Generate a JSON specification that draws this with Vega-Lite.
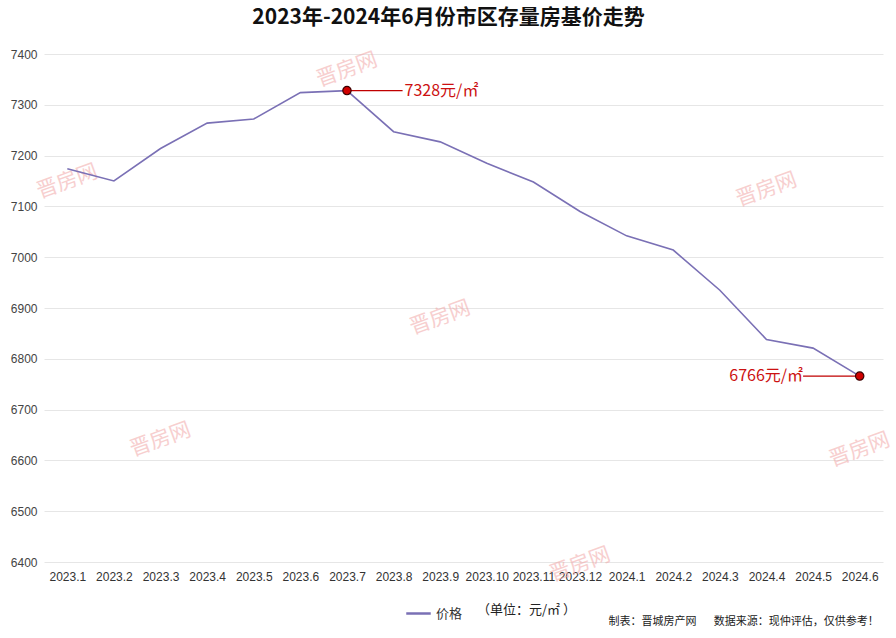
{
  "$schema": "https://vega.github.io/schema/vega-lite/v6.json",
  "width": 839,
  "height": 508,
  "autosize": "none",
  "padding": {"left": 44, "top": 54, "right": 13, "bottom": 76},
  "background": "white",
  "title": {
    "text": "2023年-2024年6月份市区存量房基价走势",
    "font": "Noto Sans CJK SC",
    "fontSize": 21,
    "fontWeight": "bold",
    "color": "#111111",
    "anchor": "middle",
    "frame": "group",
    "dx": -15,
    "offset": 20
  },
  "datasets": {
    "prices": [
      {"month": "2023.1", "price": 7174, "series": "价格"},
      {"month": "2023.2", "price": 7150, "series": "价格"},
      {"month": "2023.3", "price": 7214, "series": "价格"},
      {"month": "2023.4", "price": 7264, "series": "价格"},
      {"month": "2023.5", "price": 7272, "series": "价格"},
      {"month": "2023.6", "price": 7324, "series": "价格"},
      {"month": "2023.7", "price": 7328, "series": "价格"},
      {"month": "2023.8", "price": 7247, "series": "价格"},
      {"month": "2023.9", "price": 7227, "series": "价格"},
      {"month": "2023.10", "price": 7185, "series": "价格"},
      {"month": "2023.11", "price": 7148, "series": "价格"},
      {"month": "2023.12", "price": 7090, "series": "价格"},
      {"month": "2024.1", "price": 7042, "series": "价格"},
      {"month": "2024.2", "price": 7014, "series": "价格"},
      {"month": "2024.3", "price": 6935, "series": "价格"},
      {"month": "2024.4", "price": 6838, "series": "价格"},
      {"month": "2024.5", "price": 6821, "series": "价格"},
      {"month": "2024.6", "price": 6766, "series": "价格"}
    ],
    "callouts": [
      {"month": "2023.7", "to": "2023.8", "price": 7328, "label": "7328元/㎡", "side": "right"},
      {"month": "2024.6", "to": "2024.5", "price": 6766, "label": "6766元/㎡", "side": "left"}
    ],
    "watermarks": [
      {"month": "2023.7", "price": 7368},
      {"month": "2023.1", "price": 7148},
      {"month": "2024.4", "price": 7132},
      {"month": "2023.9", "price": 6880},
      {"month": "2023.3", "price": 6640},
      {"month": "2024.6", "price": 6620},
      {"month": "2023.12", "price": 6394}
    ],
    "units": [{"month": "2023.11", "price": 6400, "note": "（单位：元/㎡ ）"}],
    "credits": [{"month": "2024.6", "price": 6400, "note": "制表：晋城房产网\u00a0\u00a0\u00a0\u00a0\u00a0\u00a0\u00a0数据来源：现仲评估，仅供参考！"}]
  },
  "encoding": {
    "x": {
      "field": "month",
      "type": "ordinal",
      "scale": {
        "type": "point",
        "padding": 0.5,
        "domain": ["2023.1", "2023.2", "2023.3", "2023.4", "2023.5", "2023.6", "2023.7", "2023.8", "2023.9", "2023.10", "2023.11", "2023.12", "2024.1", "2024.2", "2024.3", "2024.4", "2024.5", "2024.6"]
      },
      "axis": {
        "title": null,
        "labelAngle": 0,
        "labelFont": "Liberation Sans",
        "labelFontSize": 12,
        "labelColor": "#333333",
        "labelPadding": 9,
        "ticks": false,
        "domain": false,
        "grid": false
      }
    },
    "y": {
      "field": "price",
      "type": "quantitative",
      "scale": {"domain": [6400, 7400], "nice": false, "zero": false},
      "axis": {
        "title": null,
        "format": "d",
        "values": [6400, 6500, 6600, 6700, 6800, 6900, 7000, 7100, 7200, 7300, 7400],
        "labelFont": "Liberation Sans",
        "labelFontSize": 12,
        "labelColor": "#444444",
        "labelPadding": 7,
        "ticks": false,
        "domain": false,
        "gridColor": "#e6e6e6"
      }
    }
  },
  "layer": [
    {
      "data": {"name": "watermarks"},
      "mark": {
        "type": "text",
        "text": "晋房网",
        "font": "Noto Sans CJK SC",
        "fontSize": 21,
        "angle": -20,
        "color": "#f2a8a8",
        "opacity": 0.55,
        "clip": false
      }
    },
    {
      "data": {"name": "prices"},
      "mark": {"type": "line", "strokeWidth": 1.6},
      "encoding": {
        "color": {
          "field": "series",
          "type": "nominal",
          "scale": {"range": ["#7a70b5"]},
          "legend": {
            "title": null,
            "orient": "none",
            "legendX": 361,
            "legendY": 546,
            "symbolType": "stroke",
            "symbolStrokeWidth": 2.5,
            "symbolSize": 600,
            "labelFont": "Noto Sans CJK SC",
            "labelFontSize": 13,
            "labelColor": "#333333"
          }
        }
      }
    },
    {
      "data": {"name": "callouts"},
      "transform": [{"filter": "datum.side === 'right'"}],
      "mark": {"type": "rule", "color": "#c00000", "strokeWidth": 1.2, "x2Offset": 9},
      "encoding": {"x2": {"field": "to"}}
    },
    {
      "data": {"name": "callouts"},
      "transform": [{"filter": "datum.side === 'left'"}],
      "mark": {"type": "rule", "color": "#c00000", "strokeWidth": 1.2, "x2Offset": -10},
      "encoding": {"x2": {"field": "to"}}
    },
    {
      "data": {"name": "callouts"},
      "mark": {
        "type": "point",
        "shape": "circle",
        "filled": true,
        "size": 70,
        "color": "#d00000",
        "stroke": "#3a0000",
        "strokeWidth": 1.2,
        "opacity": 1
      }
    },
    {
      "data": {"name": "callouts"},
      "transform": [{"filter": "datum.side === 'right'"}],
      "mark": {
        "type": "text",
        "align": "left",
        "baseline": "middle",
        "dx": 11,
        "font": "Noto Sans CJK SC",
        "fontSize": 16,
        "color": "#cc1111"
      },
      "encoding": {"x": {"field": "to"}, "text": {"field": "label"}}
    },
    {
      "data": {"name": "callouts"},
      "transform": [{"filter": "datum.side === 'left'"}],
      "mark": {
        "type": "text",
        "align": "right",
        "baseline": "middle",
        "dx": -10,
        "font": "Noto Sans CJK SC",
        "fontSize": 16,
        "color": "#cc1111"
      },
      "encoding": {"x": {"field": "to"}, "text": {"field": "label"}}
    },
    {
      "data": {"name": "units"},
      "mark": {
        "type": "text",
        "font": "Noto Sans CJK SC",
        "fontSize": 13,
        "color": "#222222",
        "baseline": "middle",
        "dx": -7,
        "dy": 48,
        "clip": false
      },
      "encoding": {"text": {"field": "note"}}
    },
    {
      "data": {"name": "credits"},
      "mark": {
        "type": "text",
        "font": "Noto Sans CJK SC",
        "fontSize": 11,
        "color": "#222222",
        "align": "right",
        "baseline": "middle",
        "dx": 19,
        "dy": 60,
        "clip": false
      },
      "encoding": {"text": {"field": "note"}}
    }
  ],
  "config": {
    "view": {"stroke": null}
  }
}
